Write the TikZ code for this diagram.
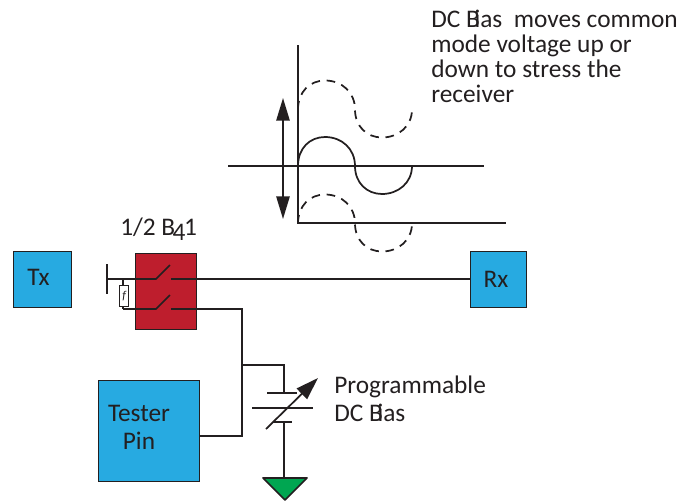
\documentclass[tikz,border=0pt]{standalone}
\usepackage{fontspec}
\setmainfont{Carlito}
\usetikzlibrary{arrows.meta}
\definecolor{ink}{RGB}{35,31,32}
\definecolor{bluebox}{RGB}{39,170,225}
\definecolor{redbox}{RGB}{190,30,45}
\definecolor{groundgreen}{RGB}{0,166,81}
\newcommand{\DCB}{DC B\kern-4pt ias}
\tikzset{
  x=0.75pt,y=-0.75pt,
  wire/.style={draw=ink,line width=1.3pt},
  thin wire/.style={draw=ink,line width=1pt},
  box/.style={draw=ink,line width=1.3pt,inner sep=0,anchor=north west},
  lbl/.style={text=ink,font=\fontsize{19}{21}\selectfont,inner sep=0},
  note/.style={lbl,anchor=base west},
  wave/.style={draw=ink,line width=1.3pt},
  dashwave/.style={wave,dash pattern=on 6.5pt off 5pt},
  bigarrow/.style={wire,-{Triangle[length=17pt,width=11pt]}},
  updown/.style={wire,{Triangle[length=17pt,width=10pt]}-{Triangle[length=17pt,width=10pt]}}
}
\begin{document}
\begin{tikzpicture}
\useasboundingbox (0,0) rectangle (694,501);
% boxes
\node[box,fill=bluebox,minimum width=43.5pt,minimum height=42pt] (tx) at (12.5,250.5) {};
\node[lbl] (txl) at (38.5,277) {Tx};
\node[box,fill=bluebox,minimum width=42pt,minimum height=42pt] (rx) at (469.5,250.5) {};
\node[lbl] (rxl) at (496,279) {Rx};
\node[box,fill=bluebox,minimum width=75.75pt,minimum height=75.75pt] (tester) at (97.5,379.5) {};
\node[lbl,align=center] (testerl) at (139,427) {\fontsize{19}{20}\selectfont Tester\\Pin};
\node[box,fill=redbox,minimum width=45.75pt,minimum height=57pt] (relay) at (134.5,252.5) {};
% relay contacts
\coordinate (bar1) at (107,264);
\coordinate (bar2) at (107,294);
\coordinate (barm) at (107,279);
\coordinate (a1) at (156,279);
\coordinate (b1) at (170,265);
\coordinate (c1) at (171,279);
\coordinate (fa) at (123,309);
\coordinate (a2) at (156,309);
\coordinate (b2) at (170,295);
\coordinate (c2) at (171,309);
\coordinate (corner) at (242,309);
\coordinate (tjoin) at (242,436);
\coordinate (fb) at (123,279);
\coordinate (branch) at (242,365);
\draw[wire] (bar1) -- (bar2);
\draw[wire] (barm) -- (a1) -- (b1);
\draw[wire] (c1) -- (rx.west |- c1);
\draw[wire] (fa) -- (a2) -- (b2);
\draw[wire] (c2) -- (corner) -- (tjoin) -- (tester.east |- tjoin);
\draw[thin wire] (fb) -- (fa);
\node[box,thin wire,fill=white,minimum width=6.75pt,minimum height=15.75pt] (fuse) at (119,285) {};
\node[text=ink,inner sep=0,font=\fontsize{9}{9}\selectfont\itshape] (fusel) at (fuse.center) {f};
\node[lbl,anchor=base west] (bl) at (120,235) {1/2 B\kern-2pt\raisebox{-4pt}{4}\kern-1pt 1};
% capacitor
\coordinate (captop) at (284,365);
\coordinate (p1) at (284,393);
\coordinate (p1l) at (267,393);
\coordinate (p1r) at (297,393);
\coordinate (p2l) at (252,408);
\coordinate (p2r) at (313,408);
\coordinate (p3l) at (273,422);
\coordinate (p3r) at (292,422);
\coordinate (p3) at (284,422);
\coordinate (arrs) at (266,429);
\coordinate (arre) at (318,378);
\draw[wire] (branch) -- (captop) -- (p1);
\draw[wire] (p1l) -- (p1r);
\draw[wire] (p2l) -- (p2r);
\draw[wire] (p3l) -- (p3r);
\draw[bigarrow] (arrs) -- (arre);
\coordinate (g1) at (263,478);
\coordinate (g2) at (307,478);
\coordinate (g3) at (285,500);
\draw[wire] (p3) -- (p3 |- g1);
\draw[draw=ink,line width=1.3pt,fill=groundgreen,line join=round] (g1) -- (g2) -- (g3) -- cycle;
\node[note] (prog) at (334,393) {Programmable};
\node[note] (dcb) at (334,421) {\DCB};
% waveform
\coordinate (vt) at (298,45);
\coordinate (vb) at (298,223);
\coordinate (h1l) at (228,166);
\coordinate (h1r) at (484,166);
\coordinate (h2r) at (506,223);
\coordinate (ut) at (283,98);
\coordinate (ub) at (283,219);
\draw[wire] (vt) -- (vb) -- (h2r);
\draw[wire] (h1l) -- (h1r);
\draw[updown] (ut) -- (ub);
\foreach \dy/\sty in {0/wave,-56.5/dashwave,57.5/dashwave}{
  \draw[\sty] (298,166+\dy) .. controls (298,148+\dy) and (310,137+\dy) .. (325,137+\dy)
     .. controls (342,137+\dy) and (355,149+\dy) .. (355,166+\dy)
     .. controls (355,183+\dy) and (367,194+\dy) .. (382,194+\dy)
     .. controls (398,194+\dy) and (412,183+\dy) .. (412,166+\dy);
}
% note
\node[note] (n1) at (431,27) {\DCB\ \ moves common};
\node[note] (n2) at (431,52) {mode voltage up or};
\node[note] (n3) at (431,77) {down to stress the};
\node[note] (n4) at (431,102) {receiver};
\end{tikzpicture}
\end{document}
